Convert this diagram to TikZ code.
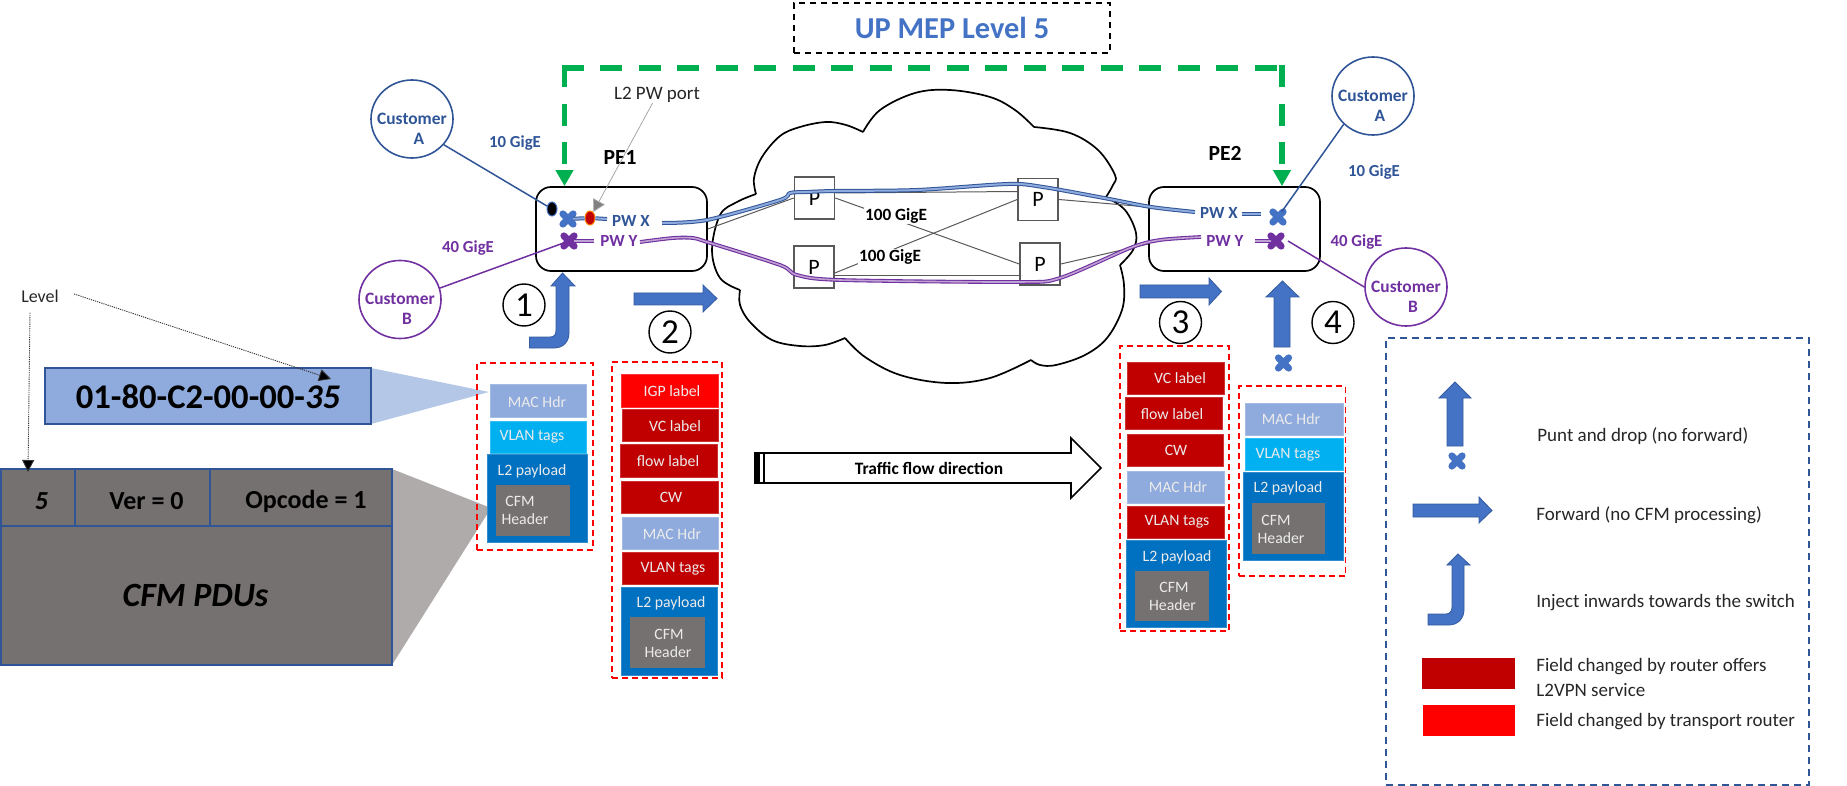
\documentclass[tikz,border=0pt]{standalone}
\usepackage{fontspec}
\setmainfont{Carlito}
\usetikzlibrary{arrows.meta,shapes.geometric,shapes.misc}
\definecolor{cBlue}{HTML}{4472C4}
\definecolor{cNavy}{HTML}{2F5597}
\definecolor{cPurple}{HTML}{7030A0}
\definecolor{cGreen}{HTML}{00B050}
\definecolor{cDark}{HTML}{C00000}
\definecolor{cRed}{HTML}{FF0000}
\definecolor{cMac}{HTML}{8FAADC}
\definecolor{cVlan}{HTML}{00B0F0}
\definecolor{cPay}{HTML}{0070C0}
\definecolor{cGray}{HTML}{767171}
\definecolor{cLine}{HTML}{595959}
\definecolor{cTrapB}{HTML}{B4C7E7}
\definecolor{cTrapG}{HTML}{AFABAB}
\newcommand{\fsz}[1]{\fontsize{#1}{\dimexpr#1pt*115/100\relax}\selectfont}
\newcommand{\fld}[9]{%
  \node[fieldbox,fill=#6,draw=#6!80!white,minimum width={(#4-#2)*0.5pt},minimum height={(#5-#3)*0.5pt}] (#1) at ({(#2+#4)/2},{(#3+#5)/2}) {};
  \node[fieldtext] (#1t) at (#7,#8) {#9};}
\newcommand{\cfmbox}[8]{%
  \node[fieldbox,fill=cGray,minimum width={(#4-#2)*0.5pt},minimum height={(#5-#3)*0.5pt}] (#1) at ({(#2+#4)/2},{(#3+#5)/2}) {};
  \node[fieldtext] (#1a) at (#6,#7) {CFM};
  \node[fieldtext] (#1b) at (#8,{#7+18.5}) {Header};}
\newcommand{\stackframe}[5]{%
  \node[stackbox,minimum width={(#4-#2)*0.5pt},minimum height={(#5-#3)*0.5pt}] (#1) at ({(#2+#4)/2},{(#3+#5)/2}) {};}
\tikzset{
  fieldbox/.style={rectangle,inner sep=0pt,outer sep=0pt,line width=.5pt},
  fieldtext/.style={inner sep=0pt,text=white!92!black,font=\fsz{7.9}},
  stackbox/.style={rectangle,inner sep=0pt,draw=cRed,line width=.75pt,dash pattern=on 3pt off 2pt},
  custbox/.style={ellipse,inner sep=0pt,minimum width=41pt,minimum height=39pt,line width=.8pt},
  custtext/.style={align=center,inner sep=0pt,font=\fsz{8.7}\bfseries},
  speedA/.style={inner sep=0pt,text=cNavy,font=\fsz{8.4}\bfseries},
  speedB/.style={inner sep=0pt,text=cPurple,font=\fsz{8.4}\bfseries},
  pebox/.style={rectangle,rounded corners=7.5pt,draw=black,line width=.85pt,inner sep=0pt,minimum width=85.5pt,minimum height=42pt},
  pbox/.style={rectangle,draw=cLine,line width=.8pt,inner sep=0pt,minimum width=20pt,minimum height=21pt,font=\fsz{11}},
  plink/.style={draw=cLine,line width=.5pt},
  gig/.style={fill=white,inner sep=.5pt,font=\fsz{8.6}\bfseries},
  xmark/.style={cross out,draw=#1,line width=3.4pt,minimum size=5.2pt,inner sep=0pt,outer sep=0pt,line cap=round},
  pipeX/.style={draw=cNavy,line width=.5pt,double=cMac,double distance=1pt},
  pipeY/.style={draw=cPurple,line width=.55pt,double=cPurple!45!white,double distance=.8pt},
  greenline/.style={draw=cGreen,line width=2.8pt,dash pattern=on 11pt off 8.25pt},
  greentip/.style={-{Triangle[length=8pt,width=8.5pt,fill=cGreen]}},
  blockarrow/.style={fill=cBlue,draw=cNavy!80!cBlue,line width=.4pt,line join=miter},
  numcircle/.style={circle,draw=black,line width=.7pt,inner sep=0pt,minimum size=21pt,font=\fsz{17.5}},
  leader/.style={draw=black!80,line width=.45pt,dash pattern=on .6pt off .5pt,-{Triangle[length=6pt,width=6pt,fill=black,sharp]}},
  legendtext/.style={anchor=west,inner sep=0pt,text=black!85,font=\fsz{9.5}},
  cloudline/.style={draw=black,line width=.85pt},
  pdubox/.style={rectangle,inner sep=0pt,fill=cGray,draw=cNavy,line width=.75pt},
  pdutext/.style={inner sep=0pt,text=black,font=\fsz{13}\bfseries},
}
\begin{document}
\begin{tikzpicture}[x=0.5pt,y=-0.5pt]
\useasboundingbox (0,0) rectangle (1847,786);

% trapezoid zooms
\coordinate (macpt) at (489,392);
\coordinate (cfmpt) at (491,508);
\fill[cTrapB] (371,368) -- (macpt) -- (371,424) -- cycle;
\fill[cTrapG] (392,469) -- (cfmpt) -- (392,665) -- cycle;

% title
\node[draw=black,line width=.6pt,dash pattern=on 3pt off 2.5pt,rectangle,inner sep=0pt,minimum width=158pt,minimum height=25pt,text=cBlue,font=\fsz{15.2}\bfseries] (title) at (952,28) {UP MEP Level 5};

% cloud
\draw[cloudline] plot[smooth,tension=.6] coordinates {(756,194) (754,178) (762,157) (780,136) (800,127) (826,122) (846,125) (863,132)};
\draw[cloudline] plot[smooth,tension=.6] coordinates {(863,132) (880,110) (915,93) (950,90) (990,97) (1015,110) (1034,127)};
\draw[cloudline] plot[smooth,tension=.6] coordinates {(1034,127) (1070,133) (1098,150) (1115,175) (1113,185) (1106,197)};
\draw[cloudline] plot[smooth,tension=.6] coordinates {(1106,197) (1125,210) (1136,233) (1133,250) (1120,265)};
\draw[cloudline] plot[smooth,tension=.6] coordinates {(1120,265) (1124,285) (1122,310) (1107,338) (1085,355) (1056,365) (1040,365) (1031,360)};
\draw[cloudline] plot[smooth,tension=.6] coordinates {(1031,360) (990,378) (947,383) (900,375) (865,357) (845,338)};
\draw[cloudline] plot[smooth,tension=.6] coordinates {(845,338) (825,345) (800,346) (772,340) (750,322) (740,305) (740,290)};
\draw[cloudline] plot[smooth,tension=.6] coordinates {(740,290) (720,278) (712,250) (720,215) (737,202) (756,194)};

% routers
\node[pebox] (pe1) at (621.5,229) {};
\node[pebox] (pe2) at (1234.5,229) {};
\node[inner sep=0pt,font=\fsz{10.8}\bfseries] (pe1t) at (620,157) {PE1};
\node[inner sep=0pt,font=\fsz{10.8}\bfseries] (pe2t) at (1225,153) {PE2};
\node[pbox] (p1) at (814.5,198) {P};
\node[pbox] (p2) at (814,267) {P};
\node[pbox] (p3) at (1038,199.5) {P};
\node[pbox] (p4) at (1040,264) {P};

% links between routers
\draw[plink] ([yshift=2.5pt]p1.east) -- ([yshift=4pt]p3.west);
\draw[plink] (p1.east) -- (p4.west);
\draw[plink] ([yshift=-3pt]p2.east) -- (p3.west);
\draw[plink] ([yshift=-4.5pt]p2.east) -- ([yshift=-6pt]p4.west);
\draw[plink] (pe1.east) -- (p1.west);
\draw[plink] (p3.east) -- ([yshift=11pt]pe2.west);
\draw[plink] (p4.east) -- ([yshift=-7.5pt]pe2.west);
\node[gig] (g1) at (896,216) {100 GigE};
\node[gig] (g2) at (890,257) {100 GigE};

% port markers
\node[xmark=cBlue] (xb1) at (568,219) {};
\node[xmark=cPurple] (xp1) at (569,241) {};
\node[xmark=cBlue] (xb2) at (1278,217) {};
\node[xmark=cPurple] (xp2) at (1276,241) {};
\node[ellipse,fill=black,draw=cBlue,line width=.5pt,minimum width=5pt,minimum height=7pt,inner sep=0pt] (bdot) at (552,209) {};
\node[ellipse,fill=cDark,draw=orange,line width=.5pt,minimum width=5pt,minimum height=7pt,inner sep=0pt] (rdot) at (590,218) {};

% pseudowire labels
\node[inner sep=0pt,text=cNavy,font=\fsz{8.5}\bfseries] (pwx1) at (631,221) {PW X};
\node[inner sep=0pt,text=cPurple,font=\fsz{8.5}\bfseries] (pwy1) at (619,241) {PW Y};
\node[inner sep=0pt,text=cNavy,font=\fsz{8.5}\bfseries] (pwx2) at (1219,213) {PW X};
\node[inner sep=0pt,text=cPurple,font=\fsz{8.5}\bfseries] (pwy2) at (1225,241) {PW Y};

% pseudowires
\coordinate (xs) at (662,223);
\coordinate (xe) at (1195,212);
\coordinate (ys) at (640,242);
\coordinate (ye) at (1201,237);
\draw[pipeX] plot[smooth,tension=.5] coordinates {(xs) (707,220) (780,200) (790,193) (807,192) (835,191) (917,190) (1008,184) (1043,187) (1104,198) (1151,207) (xe)};
\draw[pipeY] plot[smooth,tension=.5] coordinates {(ys) (673,238) (693,238) (707,242) (780,265) (797,275) (840,280) (1017,282) (1060,278) (1130,248) (1160,240) (ye)};
\coordinate (xm1) at (607,219);
\coordinate (xm2) at (1242,214);
\coordinate (xm3) at (1261,214);
\coordinate (ym1) at (594,241);
\coordinate (ym2) at (1255,241);
\draw[pipeX] (xb1) -- (rdot);
\draw[pipeX] (rdot) -- (xm1);
\draw[pipeX] (xm2) -- (xm3);
\draw[pipeY] (xp1) -- (ym1);
\draw[pipeY] (ym2) -- (xp2);

% customers
\node[custbox,draw=cNavy] (ca1) at (412,119) {};
\node[custtext,text=cNavy] (ca1t) at (412,129) {Customer\\\hspace*{7pt}A};
\node[custbox,draw=cPurple] (cb1) at (400,299.5) {};
\node[custtext,text=cPurple] (cb1t) at (400,309) {Customer\\\hspace*{7pt}B};
\node[custbox,draw=cNavy] (ca2) at (1373,96) {};
\node[custtext,text=cNavy] (ca2t) at (1373,106) {Customer\\\hspace*{7pt}A};
\node[custbox,draw=cPurple] (cb2) at (1406,287) {};
\node[custtext,text=cPurple] (cb2t) at (1406,297) {Customer\\\hspace*{7pt}B};
\coordinate (ep1) at (1288,241);
\draw[cNavy,line width=.75pt] (ca1.321) -- (bdot);
\draw[cPurple,line width=.75pt] (cb1.16) -- (xp1);
\draw[cNavy,line width=.75pt] (ca2.224) -- (xb2);
\draw[cPurple,line width=.75pt] (cb2.180) -- (ep1);
\node[speedA] (s10a) at (515,143) {10 GigE};
\node[speedB] (s40a) at (468,248) {40 GigE};
\node[speedA] (s10b) at (1374,172) {10 GigE};
\node[speedB] (s40b) at (1356.5,242) {40 GigE};

% L2 PW port
\node[inner sep=0pt,text=black!85,font=\fsz{9.5}] (l2pw) at (657,95) {L2 PW port};
\draw[draw=black!35,line width=.4pt,-{Triangle[length=6pt,width=6.5pt,fill=gray]}] (l2pw) -- (rdot);

% MEP path
\coordinate (gl) at (564.5,68);
\coordinate (gr) at (1282,68);
\draw[greenline] ([xshift=-1.4pt]gl) -- ([xshift=1.4pt]gr);
\draw[greenline,greentip] ([yshift=1.4pt]gl) -- (gl |- pe1.north);
\draw[greenline,greentip] ([yshift=1.4pt]gr) -- (gr |- pe2.north);

% block arrows
\draw[blockarrow] (529.5,348) -- (554,348) .. controls (563,348) and (569,342) .. (569,333) -- (569,286) -- (575,286) -- (562.5,273) -- (551,286) -- (556,286) -- (556,330) .. controls (556,335) and (554,337) .. (550,337) -- (529.5,337) -- cycle;
\draw[blockarrow] (634,293) -- (703,293) -- (703,285) -- (717,298.5) -- (703,312) -- (703,305) -- (634,305) -- cycle;
\draw[blockarrow] (1140,285) -- (1209,285) -- (1209,278) -- (1221.5,291.5) -- (1209,305) -- (1209,298) -- (1140,298) -- cycle;
\draw[blockarrow] (1274,347) -- (1274,297) -- (1266,297) -- (1282.5,281) -- (1299,297) -- (1290,297) -- (1290,347) -- cycle;
\node[xmark=cBlue] (xdrop) at (1283.5,363) {};
\node[numcircle] (n1) at (524,305) {1};
\node[numcircle] (n2) at (670,332) {2};
\node[numcircle] (n3) at (1180.5,322.5) {3};
\node[numcircle] (n4) at (1333,322.5) {4};

% left: MAC address and CFM PDU
\node[rectangle,inner sep=0pt,fill=cMac,draw=cNavy,line width=.75pt,minimum width=163pt,minimum height=28pt] (macbig) at (208,396) {};
\node[inner sep=0pt,text=black,font=\fsz{17.3}\bfseries] (mactext) at (208,397) {01-80-C2-00-00-{\itshape 35}};
\node[pdubox,minimum width=37pt,minimum height=28.5pt] (c5) at (38,497.5) {};
\node[pdubox,minimum width=67.5pt,minimum height=28.5pt] (cver) at (142.5,497.5) {};
\node[pdubox,minimum width=91pt,minimum height=28.5pt] (cop) at (301,497.5) {};
\node[pdubox,minimum width=195.5pt,minimum height=69.5pt] (cpdu) at (196.5,595.5) {};
\node[pdutext,font=\fsz{13}\bfseries\itshape] (c5t) at (41.5,501) {5};
\node[pdutext] (cvert) at (146.5,501) {Ver = 0};
\node[pdutext] (copt) at (306,501) {Opcode = 1};
\node[pdutext,font=\fsz{17}\bfseries\itshape] (cpdut) at (195.5,595) {CFM PDUs};
\node[inner sep=0pt,text=black!85,font=\fsz{9}] (lvl) at (40,296) {Level};
\coordinate (lvla) at (331,379);
\coordinate (lvlb) at (28,472);
\draw[leader] ([xshift=7.5pt,yshift=1pt]lvl.east) -- (lvla);
\draw[leader] ([xshift=-5pt,yshift=-5pt]lvl.south) -- (lvlb);

% stack 1
\stackframe{st1}{477}{363}{593}{550}
\fld{a1}{490}{384}{586}{417}{cMac}{537}{402}{MAC Hdr}
\fld{a2}{490}{421}{586}{453}{cVlan}{532}{437}{VLAN tags}
\fld{a3}{487}{454}{587}{542}{cPay}{532}{471}{L2 payload}
\cfmbox{a4}{495.5}{485}{570}{536}{520}{501}{525}

% stack 2
\stackframe{st2}{612}{362}{722}{678}
\fld{b1}{621}{374}{718}{407}{cRed}{672}{391}{IGP label}
\fld{b2}{622}{409}{718}{441}{cDark}{675}{426}{VC label}
\fld{b3}{620}{444}{717}{477}{cDark}{668}{461}{flow label}
\fld{b4}{621}{481}{718}{513}{cDark}{671}{497}{CW}
\fld{b5}{622}{517}{718}{549}{cMac}{672}{534}{MAC Hdr}
\fld{b6}{622}{552}{718}{584}{cDark}{673}{569}{VLAN tags}
\fld{b7}{621}{587}{717}{675}{cPay}{671}{603}{L2 payload}
\cfmbox{b8}{630}{617}{705}{668}{669}{634}{668}

% stack 3
\stackframe{st3}{1120}{346}{1229}{631}
\fld{d1}{1127}{362}{1224}{394}{cDark}{1180}{378}{VC label}
\fld{d2}{1125}{397}{1222}{429}{cDark}{1172}{414}{flow label}
\fld{d3}{1127}{434}{1223}{466}{cDark}{1176}{450}{CW}
\fld{d4}{1127}{471}{1224}{503}{cMac}{1178}{487}{MAC Hdr}
\fld{d5}{1127}{506}{1224}{538}{cDark}{1177}{522}{VLAN tags}
\fld{d6}{1126}{540}{1226}{627}{cPay}{1177}{557}{L2 payload}
\cfmbox{d7}{1135}{571}{1209}{621}{1174}{587}{1172.5}

% stack 4
\stackframe{st4}{1239}{386}{1345.5}{576}
\fld{e1}{1245}{403}{1343}{435}{cMac}{1291}{419}{MAC Hdr}
\fld{e2}{1245}{438}{1343}{470}{cVlan}{1288}{455}{VLAN tags}
\fld{e3}{1243}{472}{1343}{560}{cPay}{1288}{488}{L2 payload}
\cfmbox{e4}{1251.5}{503}{1325}{554}{1276}{520}{1281}

% traffic direction
\draw[fill=white,draw=black,line width=.8pt,line join=miter] (755,453) -- (1071,453) -- (1071,438) -- (1101,468) -- (1071,498) -- (1071,483) -- (755,483) -- cycle;
\fill[black] (755,453) rectangle (760,483);
\fill[black] (763,453) rectangle (765,483);
\node[inner sep=0pt,font=\fsz{8.7}\bfseries] (traffic) at (929,468) {Traffic flow direction};

% legend
\node[rectangle,inner sep=0pt,draw=cNavy,line width=.75pt,dash pattern=on 3.5pt off 2.5pt,minimum width=211.5pt,minimum height=223.5pt] (legend) at (1597.5,561.5) {};
\draw[blockarrow] (1447,446) -- (1447,398) -- (1439,398) -- (1455,382) -- (1471,398) -- (1463,398) -- (1463,446) -- cycle;
\node[xmark=cBlue] (xleg) at (1457,461) {};
\draw[blockarrow] (1413,504) -- (1479,504) -- (1479,497) -- (1492,510.5) -- (1479,523) -- (1479,517) -- (1413,517) -- cycle;
\draw[blockarrow] (1428,625) -- (1449,625) .. controls (1458,625) and (1464,618) .. (1464,610) -- (1464,565) -- (1470,565) -- (1458,554) -- (1447,565) -- (1452,565) -- (1452,607) .. controls (1452,611) and (1450,614) .. (1446,614) -- (1428,614) -- cycle;
\node[fieldbox,fill=cDark,minimum width=46.5pt,minimum height=15.5pt] (lk1) at (1468.5,673.5) {};
\node[fieldbox,fill=cRed,minimum width=46pt,minimum height=15.5pt] (lk2) at (1469,720.5) {};
\node[legendtext] (lt1) at (1537,436) {Punt and drop (no forward)};
\node[legendtext] (lt2) at (1536,515) {Forward (no CFM processing)};
\node[legendtext] (lt3) at (1536,603) {Inject inwards towards the switch};
\node[legendtext] (lt4) at (1536,667) {Field changed by router offers};
\node[legendtext] (lt5) at (1536,690) {L2VPN service};
\node[legendtext] (lt6) at (1536,722) {Field changed by transport router};
\end{tikzpicture}
\end{document}
